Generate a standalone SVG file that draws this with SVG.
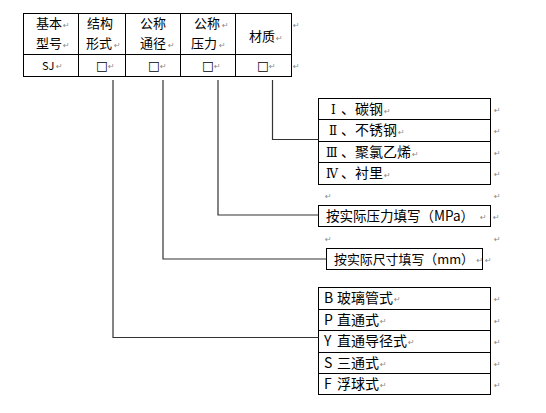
<svg xmlns="http://www.w3.org/2000/svg" width="546" height="413" viewBox="0 0 546 413">
<style>
.box{fill:#fff;stroke:#000;stroke-width:1}
.ln{fill:none;stroke:#000;stroke-width:1}
.con{fill:none;stroke:#333;stroke-width:1.2}
.t{font-family:"Noto Sans CJK SC","Noto Sans",sans-serif;font-size:13px;fill:#000}
.s{font-family:"Noto Sans CJK SC","Noto Sans",sans-serif;font-size:14px;fill:#000}
.r{font-family:"DejaVu Serif","Liberation Serif",serif;font-size:12px}
.q{font-family:"DejaVu Sans",sans-serif;font-size:12.5px;fill:#000}
.pm{font-family:"DejaVu Sans",sans-serif;font-size:8px;fill:#888}
</style>
<rect width="546" height="413" fill="#fff"/>
<g id="code-table">
<rect class="box" x="23.5" y="13.5" width="268" height="63"/>
<path class="ln" d="M23.5 54.5H291.5M78.5 13.5V76.5M125.5 13.5V76.5M180.5 13.5V76.5M235.5 13.5V76.5"/>
<text class="t" x="36" y="28">基本</text><text class="pm" x="63" y="28">↵</text>
<text class="t" x="36" y="48">型号</text><text class="pm" x="63" y="48">↵</text>
<text class="t" x="87" y="28">结构</text>
<text class="t" x="86" y="48">形式</text><text class="pm" x="114" y="48">↵</text>
<text class="t" x="140" y="28">公称</text>
<text class="t" x="140" y="48">通径</text><text class="pm" x="168" y="48">↵</text>
<text class="t" x="194" y="28">公称</text><text class="pm" x="222" y="28">↵</text>
<text class="t" x="191" y="48">压力</text><text class="pm" x="219" y="48">↵</text>
<text class="t" x="249" y="41">材质</text><text class="pm" x="276" y="41">↵</text>
<text class="pm" x="293" y="28">↵</text>
<text class="t" x="42" y="70" style="font-size:11px">SJ</text><text class="pm" x="56" y="69">↵</text>
<text class="q" x="96" y="70">□</text><text class="pm" x="108" y="69">↵</text>
<text class="q" x="148" y="70">□</text><text class="pm" x="160" y="69">↵</text>
<text class="q" x="202" y="70">□</text><text class="pm" x="214" y="69">↵</text>
<text class="q" x="257" y="70">□</text><text class="pm" x="269" y="69">↵</text>
<text class="pm" x="293" y="69">↵</text>
</g>
<g id="material">
<rect class="box" x="318.5" y="98.5" width="172" height="86"/>
<path class="ln" d="M318.5 119.5H490.5M318.5 141.5H490.5M318.5 162.5H490.5"/>
<text class="s" y="114"><tspan class="r" x="331">Ⅰ</tspan><tspan x="341">、</tspan><tspan x="355">碳钢</tspan></text><text class="pm" x="384" y="114">↵</text>
<text class="s" y="135"><tspan class="r" x="329">Ⅱ</tspan><tspan x="341">、</tspan><tspan x="355">不锈钢</tspan></text><text class="pm" x="398" y="135">↵</text>
<text class="s" y="157"><tspan class="r" x="326">Ⅲ</tspan><tspan x="341">、</tspan><tspan x="355">聚氯乙烯</tspan></text><text class="pm" x="412" y="157">↵</text>
<text class="s" y="178"><tspan class="r" x="326">Ⅳ</tspan><tspan x="341">、</tspan><tspan x="355">衬里</tspan></text><text class="pm" x="384" y="178">↵</text>
<text class="pm" x="494" y="113">↵</text><text class="pm" x="494" y="134">↵</text><text class="pm" x="494" y="156">↵</text><text class="pm" x="494" y="177">↵</text>
<text class="pm" x="325" y="199">↵</text><text class="pm" x="494" y="199">↵</text>
</g>
<g id="pressure">
<rect class="box" x="318.5" y="205.5" width="172" height="21"/>
<text class="s" x="326" y="221" textLength="148" lengthAdjust="spacingAndGlyphs">按实际压力填写（MPa）</text><text class="pm" x="480" y="220">↵</text>
<text class="pm" x="493" y="220">↵</text>
<text class="pm" x="325" y="242">↵</text><text class="pm" x="494" y="242">↵</text>
</g>
<g id="diameter">
<rect class="box" x="326.5" y="248.5" width="156" height="21"/>
<text class="s" x="334" y="264" style="font-size:13px" textLength="140" lengthAdjust="spacingAndGlyphs">按实际尺寸填写（mm）</text><text class="pm" x="476.5" y="263">↵</text>
<text class="pm" x="485" y="263">↵</text>
</g>
<g id="structure">
<rect class="box" x="318.5" y="287.5" width="172" height="107"/>
<path class="ln" d="M318.5 309.5H490.5M318.5 330.5H490.5M318.5 352.5H490.5M318.5 373.5H490.5"/>
<text class="s" y="303"><tspan x="324">B</tspan><tspan x="337">玻璃管式</tspan></text><text class="pm" x="394" y="302">↵</text>
<text class="s" y="325"><tspan x="324">P</tspan><tspan x="337">直通式</tspan></text><text class="pm" x="380" y="324">↵</text>
<text class="s" y="346"><tspan x="324">Y</tspan><tspan x="337">直通导径式</tspan></text><text class="pm" x="408" y="345">↵</text>
<text class="s" y="368"><tspan x="324">S</tspan><tspan x="337">三通式</tspan></text><text class="pm" x="380" y="367">↵</text>
<text class="s" y="389"><tspan x="324">F</tspan><tspan x="337">浮球式</tspan></text><text class="pm" x="380" y="388">↵</text>
<text class="pm" x="494" y="302">↵</text><text class="pm" x="494" y="324">↵</text><text class="pm" x="494" y="345">↵</text><text class="pm" x="494" y="367">↵</text><text class="pm" x="494" y="388">↵</text>
</g>
<g id="connectors">
<path class="con" d="M113 80V337.5H318.5"/>
<path class="con" d="M163 80V259H326.5"/>
<path class="con" d="M218 80V215H318.5"/>
<path class="con" d="M272.5 80V139.5H318.5"/>
</g>
</svg>
